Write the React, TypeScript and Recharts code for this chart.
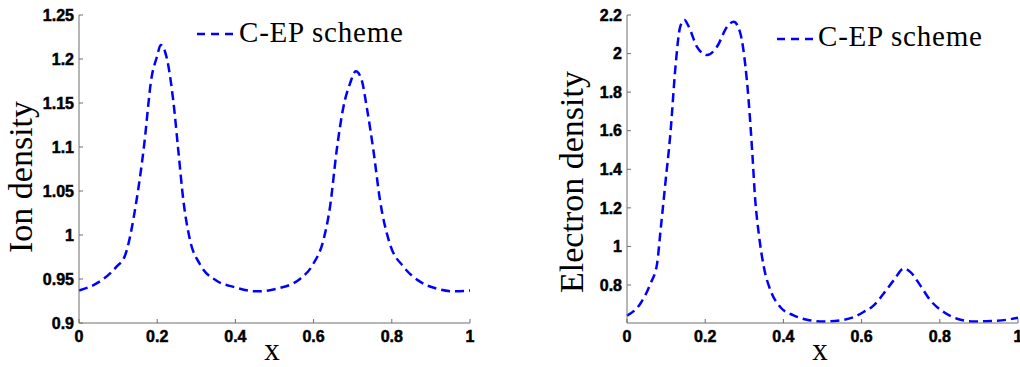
import { LineChart, Line, XAxis, YAxis, Legend } from 'recharts';

// ion density profile (left panel)
const ionX = [0, 0.045, 0.096, 0.118, 0.147, 0.165, 0.186, 0.199, 0.209, 0.224, 0.241, 0.254, 0.267, 0.284, 0.309, 0.352, 0.395, 0.454, 0.506, 0.565, 0.599, 0.625, 0.642, 0.659, 0.676, 0.693, 0.708, 0.723, 0.736, 0.753, 0.77, 0.795, 0.83, 0.872, 0.915, 0.957, 1.0];
const ionDensity = [0.937, 0.945, 0.964, 0.977, 1.039, 1.096, 1.18, 1.202, 1.216, 1.202, 1.153, 1.096, 1.039, 0.994, 0.967, 0.948, 0.941, 0.936, 0.939, 0.95, 0.967, 0.994, 1.032, 1.096, 1.145, 1.172, 1.186, 1.176, 1.145, 1.096, 1.039, 0.99, 0.964, 0.947, 0.939, 0.936, 0.937];

// electron density profile (right panel)
const elecX = [0, 0.034, 0.06, 0.077, 0.085, 0.098, 0.111, 0.124, 0.136, 0.147, 0.158, 0.179, 0.205, 0.23, 0.256, 0.273, 0.29, 0.303, 0.311, 0.32, 0.328, 0.337, 0.35, 0.367, 0.392, 0.426, 0.46, 0.503, 0.546, 0.58, 0.605, 0.631, 0.656, 0.682, 0.708, 0.725, 0.75, 0.776, 0.81, 0.844, 0.887, 0.93, 0.972, 1.0];
const electronDensity = [0.641, 0.703, 0.807, 0.911, 1.066, 1.326, 1.585, 1.932, 2.139, 2.174, 2.139, 2.035, 1.992, 2.035, 2.139, 2.165, 2.104, 1.932, 1.759, 1.499, 1.24, 1.066, 0.893, 0.772, 0.686, 0.643, 0.62, 0.611, 0.617, 0.634, 0.66, 0.694, 0.755, 0.824, 0.885, 0.867, 0.798, 0.72, 0.66, 0.625, 0.611, 0.613, 0.62, 0.63];

const xTicks = [0, 0.2, 0.4, 0.6, 0.8, 1];
const ionTicks = [0.9, 0.95, 1, 1.05, 1.1, 1.15, 1.2, 1.25];
const elecTicks = [0.8, 1, 1.2, 1.4, 1.6, 1.8, 2, 2.2];
const seriesName = 'C-EP scheme';

const ionData = ionX.map((x, i) => ({ x, y: ionDensity[i] }));
const elecData = elecX.map((x, i) => ({ x, y: electronDensity[i] }));

const AXIS = '#6e6e6e';
const BLUE = '#0000ff';
const serif = '"Liberation Serif", "Times New Roman", serif';
// matlab-ish heavy tick labels
const tickStyle = { fontFamily: '"Liberation Sans", Arial, sans-serif', fontWeight: 700, fontSize: 16 };

const YTick = (props: any) => {
  const { x, y, payload } = props;
  return (
    <g>
      <line x1={x + 6} x2={x + 10} y1={y} y2={y} stroke={AXIS} />
      <text x={x + 1} y={y} dy="0.36em" textAnchor="end" fill="#000" stroke="#000" strokeWidth={0.5} fontWeight="bold" style={tickStyle}>
        {String(payload.value)}
      </text>
    </g>
  );
};

const XTick = (props: any) => {
  const { x, y, payload } = props;
  return (
    <g>
      <line x1={x} x2={x} y1={y - 8} y2={y - 12} stroke={AXIS} />
      <text x={x} y={y} dy="0.71em" textAnchor="middle" fill="#000" stroke="#000" strokeWidth={0.5} fontWeight="bold" style={tickStyle}>
        {String(payload.value)}
      </text>
    </g>
  );
};

const AxisTitle = ({ tx, ty, text, rotate, size }: any) => (
  <text
    x={tx}
    y={ty}
    textAnchor="middle"
    fill="#000"
    style={{ fontFamily: serif, fontSize: size }}
    transform={rotate ? `rotate(-90, ${tx}, ${ty})` : undefined}
  >
    {text}
  </text>
);

const legendBox = (lx: number, ly: number, tx: number, ty: number) => () => (
  <svg width={230} height={45} style={{ display: 'block' }}>
    <line x1={lx} x2={lx + 37} y1={ly} y2={ly} stroke={BLUE} strokeWidth={2.5} strokeDasharray="8 6" />
    <text x={tx} y={ty} fill="#000" style={{ fontFamily: serif, fontSize: 29, letterSpacing: 0.8 }}>
      {seriesName}
    </text>
  </svg>
);

function Panel({ data, ticks, domain, yWidth, rightMargin, yLabel, xLabelX, legend, legendPos }: any) {
  return (
    <LineChart width={510} height={367} data={data} margin={{ top: 15, right: rightMargin, bottom: 0, left: 0 }}>
      <XAxis
        dataKey="x"
        type="number"
        domain={[0, 1]}
        ticks={xTicks}
        height={44}
        tickSize={0}
        tickMargin={8}
        tickLine={false}
        axisLine={{ stroke: AXIS }}
        tick={<XTick />}
        interval={0}
        label={<AxisTitle tx={xLabelX} ty={360} size={31} text="x" />}
      />
      <YAxis
        type="number"
        domain={domain}
        ticks={ticks}
        width={yWidth}
        tickSize={0}
        tickMargin={6}
        tickLine={false}
        axisLine={{ stroke: AXIS }}
        tick={<YTick />}
        interval={0}
        allowDataOverflow
        label={<AxisTitle tx={yLabel.x} ty={yLabel.y} size={34} text={yLabel.text} rotate />}
      />
      <Legend
        layout="vertical"
        align="center"
        verticalAlign="middle"
        content={legend}
        wrapperStyle={{ position: 'absolute', left: legendPos[0], top: legendPos[1], width: 230, height: 45 }}
      />
      <Line
        type="monotone"
        dataKey="y"
        name={seriesName}
        stroke={BLUE}
        strokeWidth={2.5}
        strokeDasharray="9 5"
        dot={false}
        isAnimationActive={false}
      />
    </LineChart>
  );
}

export default function App() {
  return (
    <div style={{ position: 'absolute', left: 0, top: 0, width: 1020, height: 367, display: 'flex', background: '#fff' }}>
      <Panel
        data={ionData}
        ticks={ionTicks}
        domain={[0.9, 1.25]}
        yWidth={79}
        rightMargin={40}
        yLabel={{ x: 32, y: 177, text: 'Ion density' }}
        xLabelX={272}
        legend={legendBox(7, 24, 49, 32)}
        legendPos={[190, 10]}
      />
      <Panel
        data={elecData}
        ticks={elecTicks}
        domain={[0.603, 2.2]}
        yWidth={117}
        rightMargin={2}
        yLabel={{ x: 73, y: 182, text: 'Electron density' }}
        xLabelX={310}
        legend={legendBox(7, 24, 48, 31)}
        legendPos={[260, 15]}
      />
    </div>
  );
}
